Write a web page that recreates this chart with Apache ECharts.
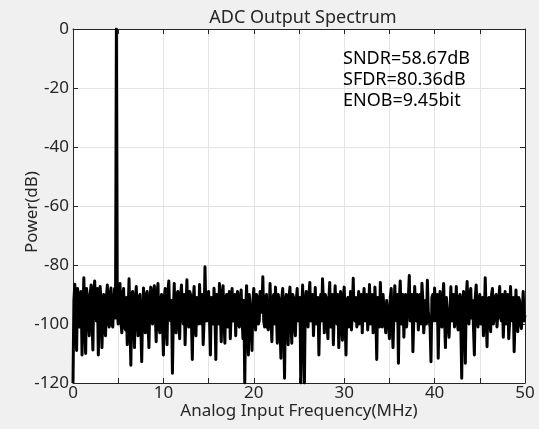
<!DOCTYPE html>
<html>
<head>
<meta charset="utf-8">
<script src="https://cdn.jsdelivr.net/npm/echarts@6/dist/echarts.min.js"></script>
<style>
html,body{margin:0;padding:0;background:#f0f0f0;}
#chart{width:539px;height:429px;}
</style>
</head>
<body>
<div id="chart"></div>
<script>
// Frequency bins: 0 to 50 MHz, step 0.1 MHz
const binStep = 0.1;
// Power (dB) per bin (10 bins per MHz)
const power = [
  -120, -92, -86.5, -98, -109, -88, -90, -101, -100, -89,
  -110.5, -96, -84.3, -100, -110, -88, -91, -99, -104, -90,
  -86.8, -98, -108.8, -89, -85.4, -96, -99, -88, -110.5, -96,
  -87.3, -92, -108, -98, -90, -101, -104, -91, -86.8, -99,
  -101, -90, -87.8, -100, -101, -92, -88, -98, 0, -96,
  -100, -89, -86.3, -99, -103, -90, -88, -101, -102, -91,
  -107, -96, -84.7, -100, -114, -90, -89, -99, -108, -92,
  -87.3, -98, -104, -91, -90, -101, -112.8, -96, -87.8, -99,
  -103, -90, -89, -100, -108, -92, -87.5, -98, -100, -89,
  -87, -96, -106, -90, -86.3, -101, -103, -92, -90, -99,
  -110.5, -91, -88, -100, -107, -89, -85.4, -98, -99, -92,
  -116.7, -96, -86.3, -101, -103, -90, -89, -99, -105, -91,
  -86.8, -96, -100, -90, -107, -96, -85, -100, -101, -89,
  -90, -99, -112, -92, -87.3, -101, -104, -91, -91, -100,
  -86.6, -96, -100, -90, -107, -99, -80.6, -96, -99, -90,
  -89, -98, -110.5, -91, -96, -100, -87.9, -96, -112, -90,
  -92, -100, -86.3, -96, -106, -90, -87, -99, -106.5, -91,
  -90, -101, -100, -89, -105, -96, -88, -99, -99, -90,
  -104, -92, -89, -100, -101, -91, -88.5, -98, -105, -92,
  -120, -96, -87, -99, -110.5, -90, -90, -101, -109, -92,
  -88, -98, -102, -90, -91, -100, -99, -89, -89, -96,
  -84, -99, -101, -91, -90, -101, -102, -96, -86.3, -98,
  -106, -92, -90, -100, -87.5, -96, -106.5, -90, -92, -101,
  -111.6, -91, -88, -98, -118.4, -92, -90, -100, -107, -91,
  -87.5, -98, -106.5, -90, -91, -101, -104, -92, -88, -99,
  -99, -91, -120, -96, -86.8, -100, -120, -92, -89, -98,
  -101, -90, -85.9, -99, -98, -90, -104, -96, -87.6, -100,
  -100, -91, -110.5, -96, -90, -99, -84.7, -92, -103, -90,
  -91, -100, -105, -92, -85.9, -101, -99, -90, -107, -96,
  -87, -98, -100, -90, -108, -96, -89, -100, -105.5, -91,
  -87.5, -99, -110.5, -92, -91, -101, -98, -89, -102, -96,
  -84.5, -98, -99, -91, -101, -96, -89, -100, -96, -90,
  -103, -92, -88, -99, -98, -90, -102, -96, -86.6, -100,
  -99, -90, -103, -98, -87.5, -96, -112, -91, -91, -101,
  -85.9, -96, -101, -90, -90, -100, -103, -92, -92, -99,
  -105, -91, -88, -100, -108, -96, -87, -98, -99, -90,
  -113.3, -92, -85.4, -100, -98, -90, -104.5, -96, -90, -101,
  -101, -91, -83.6, -99, -96, -90, -109.4, -98, -87.3, -96,
  -99, -90, -102, -96, -90, -100, -86.2, -92, -103, -98,
  -92, -100, -85.2, -96, -96, -101, -112.8, -91, -90, -99,
  -87.8, -96, -99, -90, -111.6, -96, -89, -100, -101, -92,
  -86.3, -98, -108, -91, -91, -100, -104.5, -96, -87.4, -99,
  -98, -90, -101, -96, -87.3, -99, -102, -91, -90, -100,
  -118.4, -92, -89, -99, -113.3, -91, -85.6, -96, -100, -90,
  -88, -98, -92, -101, -110.5, -91, -86.8, -96, -101, -92,
  -90, -100, -99, -91, -104, -98, -84.3, -96, -107.7, -92,
  -91, -99, -102.6, -90, -88, -100, -98, -91, -90, -101,
  -101, -92, -87.3, -98, -99, -90, -104.5, -96, -89, -100,
  -96, -90, -105, -99, -87.3, -96, -99, -91, -109.4, -98,
  -88.5, -96, -102.6, -91, -92, -100, -101.5, -96, -89, -99,
  -97
];
const xTicks = [0, 10, 20, 30, 40, 50];
const yTicks = [0, -20, -40, -60, -80, -100, -120];
const metrics = ['SNDR=58.67dB', 'SFDR=80.36dB', 'ENOB=9.45bit'];

const seriesData = power.map((v, i) => [+(i * binStep).toFixed(2), v]);

const FONT = 'Noto Sans';
const TXT = '#262626';
const chart = echarts.init(document.getElementById('chart'), null, {renderer: 'canvas'});

const xCommon = {
  type: 'value', min: 0, max: 50, interval: 5,
  axisLine: {show: true, onZero: false, lineStyle: {color: TXT, width: 1}},
  axisTick: {show: true, inside: true, length: 5, lineStyle: {color: TXT}},
  splitLine: {show: false}
};
const yCommon = {
  type: 'value', min: -120, max: 0, interval: 20,
  axisLine: {show: true, onZero: false, lineStyle: {color: TXT, width: 1}},
  axisTick: {show: true, inside: true, length: 5, lineStyle: {color: TXT}},
  splitLine: {show: false}
};

chart.setOption({
  backgroundColor: '#f0f0f0',
  animation: false,
  title: {
    text: 'ADC Output Spectrum',
    left: 298, top: 4, textAlign: 'center',
    textStyle: {fontFamily: FONT, fontSize: 18, fontWeight: 'normal', color: TXT}
  },
  grid: {left: 73, right: 14, top: 29, bottom: 46, show: true, backgroundColor: '#ffffff', borderWidth: 0},
  xAxis: [
    Object.assign({}, xCommon, {
      position: 'bottom',
      name: 'Analog Input Frequency(MHz)', nameLocation: 'middle', nameGap: 20,
      nameMoveOverlap: false,
      nameTextStyle: {fontFamily: FONT, fontSize: 17, color: TXT, verticalAlign: 'top'},
      axisLabel: {
        fontFamily: FONT, fontSize: 17, color: TXT, margin: 2,
        formatter: v => (xTicks.indexOf(v) >= 0 ? String(v) : '')
      },
      splitLine: {show: true, lineStyle: {color: '#e3e3e3', width: 1}}
    }),
    Object.assign({}, xCommon, {position: 'top', axisLabel: {show: false}})
  ],
  yAxis: [
    Object.assign({}, yCommon, {
      position: 'left',
      name: 'Power(dB)', nameLocation: 'middle', nameGap: 32, nameRotate: 90,
      nameMoveOverlap: false,
      nameTextStyle: {fontFamily: FONT, fontSize: 17, color: TXT, padding: [0, 12, 0, 0]},
      axisLabel: {
        fontFamily: FONT, fontSize: 17, color: TXT, margin: 4,
        formatter: v => (yTicks.indexOf(v) >= 0 ? String(v) : '')
      },
      splitLine: {show: true, lineStyle: {color: '#e3e3e3', width: 1}}
    }),
    Object.assign({}, yCommon, {position: 'right', axisLabel: {show: false}})
  ],
  graphic: [{
    type: 'text', left: 343, top: 48, z: 100,
    style: {
      text: metrics.join('\n'),
      font: '18px "Noto Sans"', fill: '#000', lineHeight: 21
    }
  }],
  series: [{
    type: 'line', xAxisIndex: 0, yAxisIndex: 0,
    data: seriesData, showSymbol: false, symbol: 'none',
    sampling: null,
    lineStyle: {color: '#000', width: 3, join: 'round'},
    clip: true
  }]
});
</script>
</body>
</html>
